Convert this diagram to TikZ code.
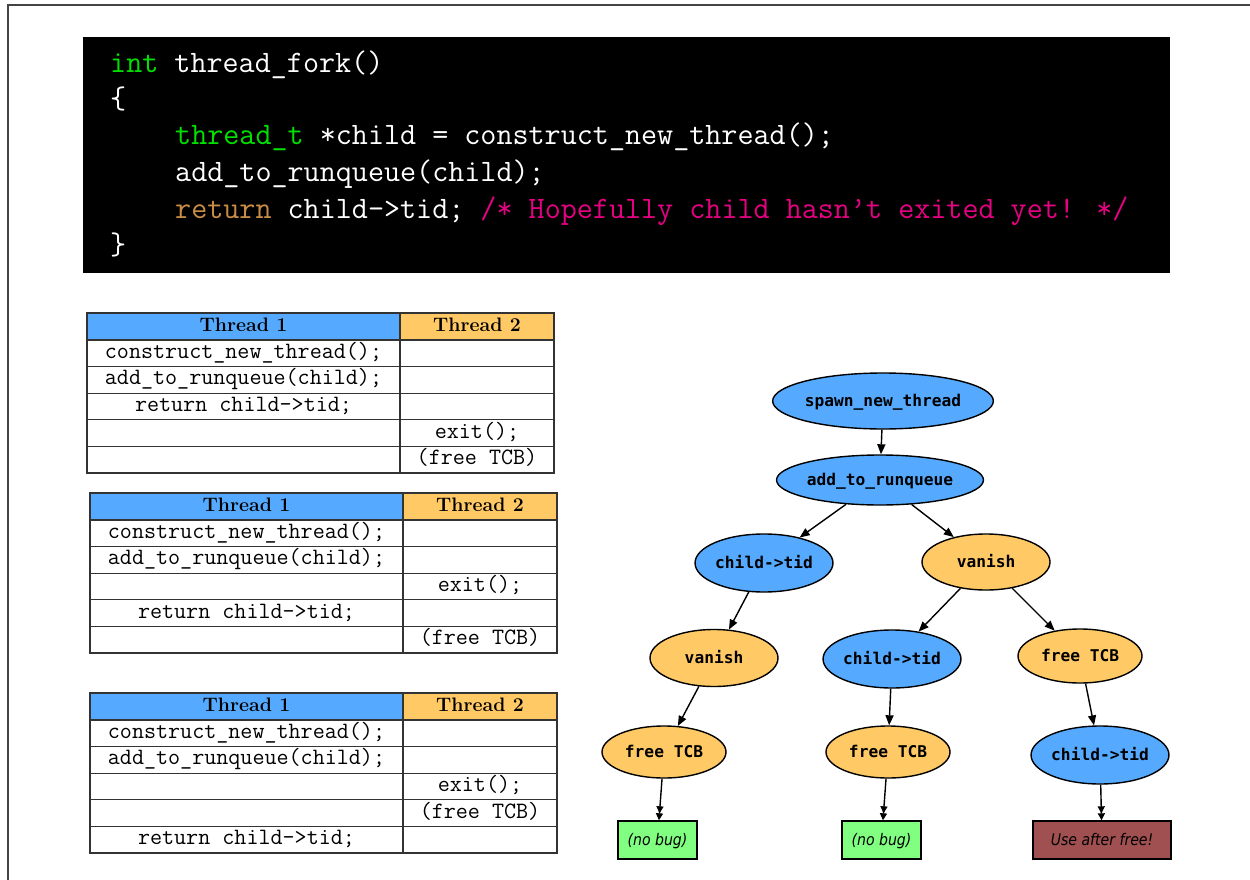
\documentclass[tikz,border=0pt]{standalone}
\usepackage{fontspec}
\newfontfamily\dvmono{DejaVu Sans Mono}
\newfontfamily\dvsans[FakeStretch=0.88]{DejaVu Sans}
\usetikzlibrary{arrows.meta,shapes.geometric}
\definecolor{tblue}{HTML}{55AAFF}
\definecolor{torange}{HTML}{FFC966}
\definecolor{tgreen}{HTML}{80FF80}
\definecolor{tred}{HTML}{A05050}
\definecolor{cgreen}{RGB}{0,225,0}
\definecolor{cbrown}{RGB}{200,140,70}
\definecolor{cmag}{RGB}{230,0,130}
\definecolor{linec}{HTML}{333333}
\definecolor{framec}{HTML}{444444}
\tikzset{
  codetxt/.style={anchor=base west, inner sep=0pt, text=white, font=\ttfamily\fontsize{31.2}{36}\selectfont},
  hcell/.style={draw=linec, line width=1.3pt, minimum height=27pt, inner sep=0pt,
    font=\fontsize{19.5}{19.5}\selectfont\bfseries, text height=13pt, text depth=4pt},
  ccell/.style={draw=linec, line width=1.3pt, minimum height=26.6pt, inner sep=0pt,
    font=\ttfamily\fontsize{23.4}{23.4}\selectfont, text height=14pt, text depth=4pt},
  gnode/.style={ellipse, draw, line width=1.4pt, inner sep=0pt,
    font=\dvmono\bfseries\fontsize{16.2}{16.2}\selectfont, text height=11.5pt, text depth=0pt},
  bluen/.style={gnode, fill=tblue},
  orn/.style={gnode, fill=torange},
  leaf/.style={rectangle, draw, line width=1.4pt, minimum width=79pt, minimum height=38pt, inner sep=0pt,
    font=\dvsans\itshape\fontsize{16}{16}\selectfont, text height=11.5pt, text depth=0pt},
  edge/.style={-{Triangle[length=10pt,width=8pt]}, line width=1.4pt},
  edgeb/.style={-{Triangle[length=7pt,width=7pt]Triangle[length=7pt,width=7pt]}, line width=1.4pt},
}
\begin{document}
\begin{tikzpicture}[x=1pt,y=-1pt]
\useasboundingbox (0,0) rectangle (1250,880);
% frame
\coordinate (fa) at (8,880);
\coordinate (fb) at (8,5);
\coordinate (fc) at (1250,5);
\draw[framec, line width=2pt] (fa) -- (fb) -- (fc);

% code block
\node[fill=black, minimum width=1087pt, minimum height=236pt, inner sep=0pt, anchor=north west] (code) at (83,37) {};
\node[codetxt] (c1) at (110,73) {\textcolor{cgreen}{int} thread\_fork()};
\node[codetxt] (c2) at (110,109) {\{};
\node[codetxt] (c3) at (175,145) {\textcolor{cgreen}{thread\_t} *child = construct\_new\_thread();};
\node[codetxt] (c4) at (175,182) {add\_to\_runqueue(child);};
\node[codetxt] (c5) at (175,218) {\textcolor{cbrown}{return} child->tid; \textcolor{cmag}{/* Hopefully child hasn\textquoteright t exited yet! */}};
\node[codetxt] (c6) at (110,254) {\}};

% table 1
\begin{scope}[shift={(87,313)}]
  \node[hcell, fill=tblue, minimum width=313pt] (a-h1) at (156.5,13.5) {Thread 1};
  \node[hcell, fill=torange, minimum width=154pt] (a-h2) at (390,13.5) {Thread 2};
  \foreach \l/\r [count=\i] in {{construct\_new\_thread();}/{}, {add\_to\_runqueue(child);}/{}, {return child->tid;}/{}, {}/{exit();}, {}/{(free TCB)}} {
    \node[ccell, minimum width=313pt] (a-l\i) at (156.5,27+26.6*\i-13.3) {\l};
    \node[ccell, minimum width=154pt] (a-r\i) at (390,27+26.6*\i-13.3) {\r};
  }
\end{scope}

% table 2
\begin{scope}[shift={(90,493)}]
  \node[hcell, fill=tblue, minimum width=313pt] (b-h1) at (156.5,13.5) {Thread 1};
  \node[hcell, fill=torange, minimum width=154pt] (b-h2) at (390,13.5) {Thread 2};
  \foreach \l/\r [count=\i] in {{construct\_new\_thread();}/{}, {add\_to\_runqueue(child);}/{}, {}/{exit();}, {return child->tid;}/{}, {}/{(free TCB)}} {
    \node[ccell, minimum width=313pt] (b-l\i) at (156.5,27+26.6*\i-13.3) {\l};
    \node[ccell, minimum width=154pt] (b-r\i) at (390,27+26.6*\i-13.3) {\r};
  }
\end{scope}

% table 3
\begin{scope}[shift={(90,693)}]
  \node[hcell, fill=tblue, minimum width=313pt] (c-h1) at (156.5,13.5) {Thread 1};
  \node[hcell, fill=torange, minimum width=154pt] (c-h2) at (390,13.5) {Thread 2};
  \foreach \l/\r [count=\i] in {{construct\_new\_thread();}/{}, {add\_to\_runqueue(child);}/{}, {}/{exit();}, {}/{(free TCB)}, {return child->tid;}/{}} {
    \node[ccell, minimum width=313pt] (c-l\i) at (156.5,27+26.6*\i-13.3) {\l};
    \node[ccell, minimum width=154pt] (c-r\i) at (390,27+26.6*\i-13.3) {\r};
  }
\end{scope}

% tree
\node[bluen, minimum width=205pt, minimum height=56pt] (n1) at (883,401) {spawn\_new\_thread};
\node[bluen, minimum width=204pt, minimum height=50pt] (n2) at (880,480) {add\_to\_runqueue};
\node[bluen, minimum width=132pt, minimum height=58pt] (n3) at (764,563) {child->tid};
\node[orn, minimum width=128pt, minimum height=56pt] (n4) at (986,562) {vanish};
\node[orn, minimum width=128pt, minimum height=57pt] (n5) at (714,658) {vanish};
\node[bluen, minimum width=132pt, minimum height=58pt] (n6) at (892,659) {child->tid};
\node[orn, minimum width=124pt, minimum height=54pt] (n7) at (1080,656) {free TCB};
\node[orn, minimum width=124pt, minimum height=52pt] (n8) at (664,752) {free TCB};
\node[orn, minimum width=124pt, minimum height=52pt] (n9) at (888,752) {free TCB};
\node[bluen, minimum width=134pt, minimum height=58pt] (n10) at (1100,755) {child->tid};
\node[leaf, fill=tgreen] (b1) at (657.5,840) {(no bug)};
\node[leaf, fill=tgreen] (b2) at (881.5,840) {(no bug)};
\node[leaf, fill=tred, minimum width=138pt] (b3) at (1102,840) {Use after free!};

\draw[edge] (n1) -- (n2);
\draw[edge] (n2) -- (n3);
\draw[edge] (n2) -- (n4);
\draw[edge] (n3) -- (n5);
\draw[edge] (n5) -- (n8);
\draw[edgeb] (n8) -- (b1);
\draw[edge] (n4) -- (n6);
\draw[edge] (n4) -- (n7);
\draw[edge] (n6) -- (n9);
\draw[edgeb] (n9) -- (b2);
\draw[edge] (n7) -- (n10);
\draw[edgeb] (n10) -- (b3);
\end{tikzpicture}
\end{document}
